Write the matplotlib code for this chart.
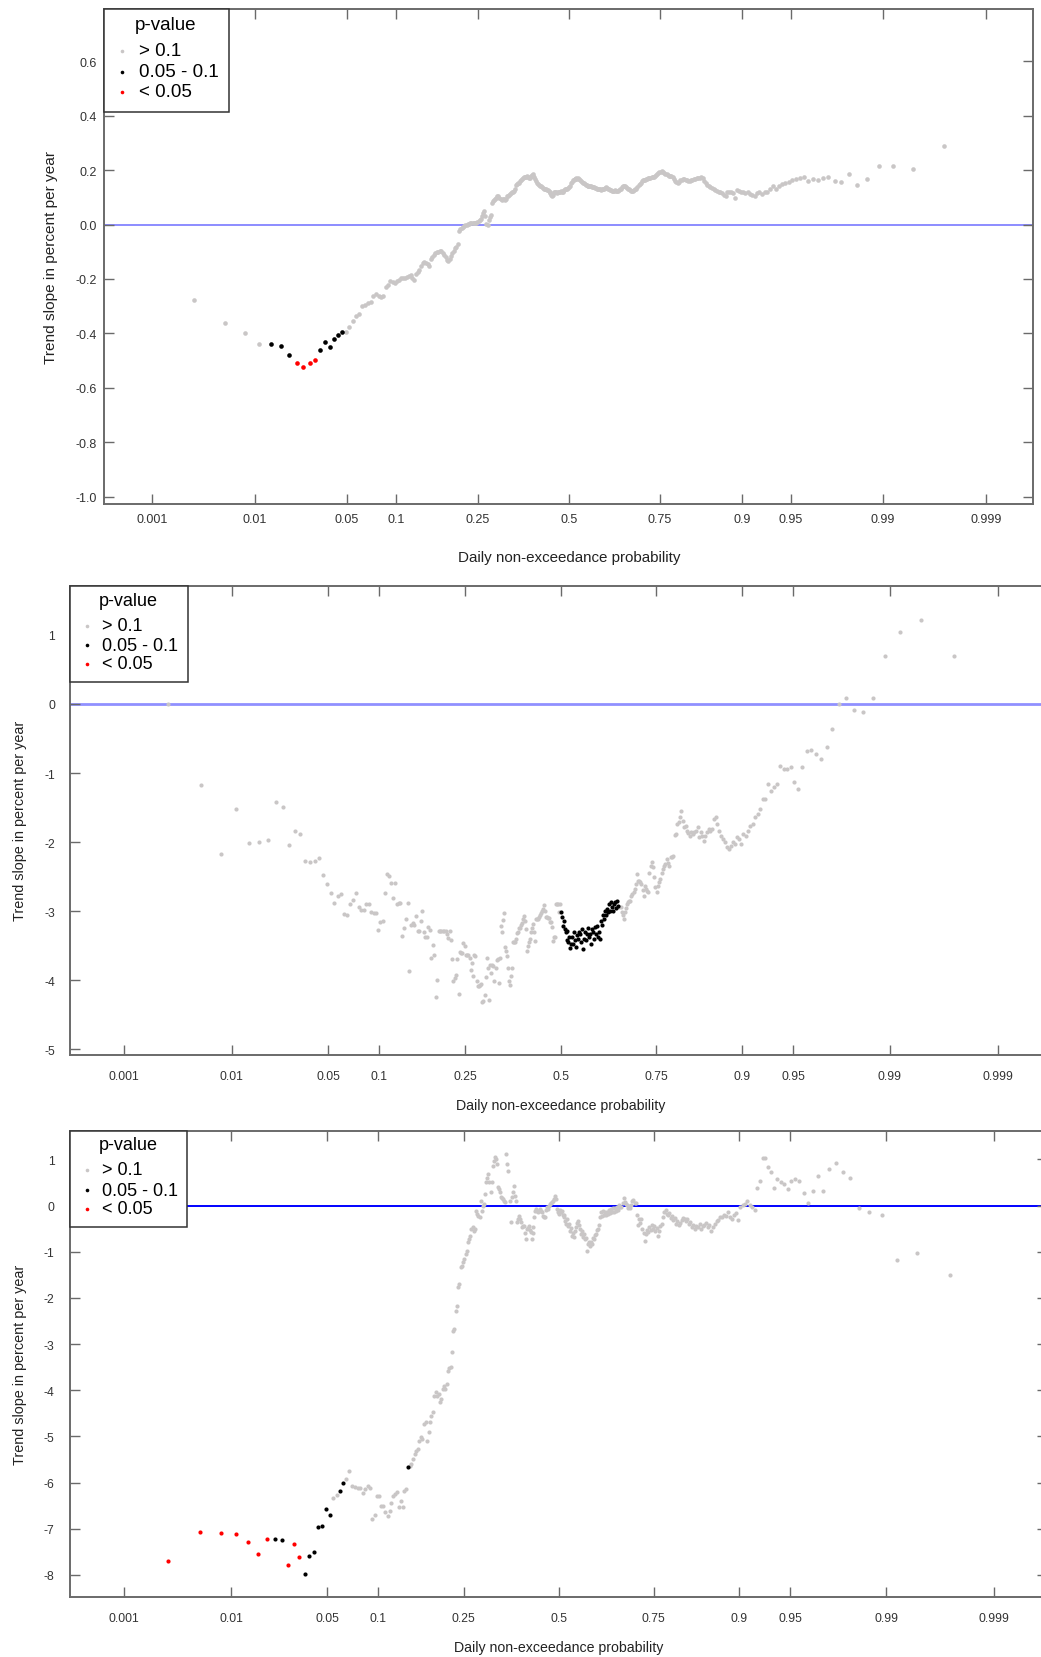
import numpy as np
import matplotlib
matplotlib.use("Agg")
import matplotlib.pyplot as plt
from matplotlib.lines import Line2D
from matplotlib.patches import Rectangle
from statistics import NormalDist

# ---------------- data ----------------
n_ranks = 365
tick_probs = [0.001, 0.01, 0.05, 0.1, 0.25, 0.5, 0.75, 0.9, 0.95, 0.99, 0.999]
tick_labels = ["0.001", "0.01", "0.05", "0.1", "0.25", "0.5", "0.75", "0.9", "0.95", "0.99", "0.999"]
legend_labels = ["> 0.1", "0.05 - 0.1", "< 0.05"]
x_label = "Daily non-exceedance probability"
y_label = "Trend slope in percent per year"

slope_1 = [
    -0.278, -0.361, -0.400, -0.439, -0.439, -0.445, -0.478, -0.510, -0.525, -0.510,
    -0.496, -0.461, -0.432, -0.449, -0.419, -0.407, -0.396, -0.394, -0.378, -0.354,
    -0.335, -0.329, -0.299, -0.296, -0.289, -0.284, -0.262, -0.256, -0.262, -0.268,
    -0.262, -0.231, -0.223, -0.207, -0.211, -0.213, -0.207, -0.203, -0.198, -0.195,
    -0.195, -0.191, -0.188, -0.186, -0.195, -0.203, -0.182, -0.176, -0.167, -0.152,
    -0.140, -0.137, -0.142, -0.146, -0.152, -0.127, -0.118, -0.113, -0.105, -0.100,
    -0.100, -0.097, -0.097, -0.103, -0.113, -0.121, -0.130, -0.133, -0.127, -0.115,
    -0.105, -0.097, -0.088, -0.081, -0.072, -0.023, -0.017, -0.012, -0.009, -0.005,
    -0.002, 0.000, 0.001, 0.002, 0.005, 0.004, 0.005, 0.007, 0.005, 0.007,
    0.010, 0.012, 0.015, 0.020, 0.032, 0.042, 0.049, 0.032, 0.001, -0.002,
    0.017, 0.026, 0.034, 0.078, 0.086, 0.091, 0.095, 0.099, 0.105, 0.103,
    0.099, 0.093, 0.091, 0.095, 0.093, 0.091, 0.095, 0.103, 0.105, 0.108,
    0.111, 0.114, 0.118, 0.120, 0.122, 0.132, 0.144, 0.149, 0.152, 0.154,
    0.159, 0.164, 0.166, 0.171, 0.173, 0.174, 0.176, 0.179, 0.174, 0.169,
    0.171, 0.179, 0.181, 0.184, 0.179, 0.174, 0.166, 0.160, 0.154, 0.149,
    0.144, 0.142, 0.140, 0.137, 0.135, 0.132, 0.132, 0.130, 0.127, 0.125,
    0.122, 0.120, 0.115, 0.108, 0.103, 0.110, 0.118, 0.120, 0.118, 0.115,
    0.118, 0.120, 0.120, 0.122, 0.118, 0.120, 0.124, 0.127, 0.130, 0.132,
    0.130, 0.135, 0.136, 0.142, 0.152, 0.157, 0.162, 0.164, 0.166, 0.168,
    0.169, 0.166, 0.169, 0.166, 0.164, 0.160, 0.157, 0.154, 0.152, 0.148,
    0.146, 0.144, 0.142, 0.142, 0.143, 0.141, 0.140, 0.137, 0.136, 0.137,
    0.135, 0.133, 0.132, 0.130, 0.129, 0.130, 0.127, 0.129, 0.131, 0.132,
    0.133, 0.135, 0.136, 0.135, 0.132, 0.130, 0.127, 0.125, 0.124, 0.122,
    0.124, 0.125, 0.124, 0.122, 0.124, 0.127, 0.130, 0.132, 0.136, 0.140,
    0.142, 0.140, 0.137, 0.135, 0.132, 0.130, 0.127, 0.124, 0.122, 0.124,
    0.127, 0.130, 0.132, 0.137, 0.144, 0.149, 0.154, 0.158, 0.162, 0.164,
    0.164, 0.166, 0.166, 0.169, 0.169, 0.171, 0.173, 0.175, 0.176, 0.179,
    0.181, 0.185, 0.188, 0.191, 0.193, 0.195, 0.192, 0.188, 0.186, 0.184,
    0.181, 0.179, 0.179, 0.177, 0.173, 0.166, 0.160, 0.157, 0.154, 0.157,
    0.162, 0.164, 0.166, 0.166, 0.164, 0.162, 0.160, 0.160, 0.162, 0.164,
    0.166, 0.166, 0.169, 0.170, 0.171, 0.174, 0.169, 0.159, 0.152, 0.144,
    0.142, 0.138, 0.135, 0.130, 0.127, 0.124, 0.120, 0.118, 0.114, 0.110,
    0.105, 0.118, 0.120, 0.118, 0.115, 0.098, 0.127, 0.124, 0.120, 0.118,
    0.115, 0.118, 0.111, 0.108, 0.105, 0.115, 0.118, 0.111, 0.118, 0.121,
    0.130, 0.140, 0.132, 0.142, 0.147, 0.151, 0.157, 0.164, 0.168, 0.172,
    0.175, 0.159, 0.168, 0.165, 0.172, 0.176, 0.159, 0.156, 0.185, 0.146,
    0.168, 0.215, 0.215, 0.203, 0.289,
]
black_ranks_1 = [5, 6, 7, 12, 13, 14, 15, 16, 17]
red_ranks_1 = [8, 9, 10, 11]

slope_2 = [
    0.000, -1.176, -2.174, -1.525, -2.019, -1.999, -1.974, -1.416, -1.490, -2.049,
    -1.834, -1.888, -2.274, -2.293, -2.269, -2.230, -2.481, -2.602, -2.742, -2.877,
    -2.785, -2.756, -3.041, -3.051, -2.901, -2.843, -2.742, -2.935, -2.983, -2.983,
    -2.901, -2.901, -3.007, -3.032, -3.020, -3.273, -3.152, -3.143, -2.742, -2.462,
    -2.491, -2.588, -2.810, -2.588, -2.896, -2.880, -2.877, -3.360, -3.250, -3.119,
    -2.887, -3.862, -3.200, -3.167, -3.201, -3.070, -3.287, -3.287, -3.150, -2.998,
    -3.300, -3.374, -3.374, -3.234, -3.278, -3.674, -3.495, -3.630, -4.248, -3.997,
    -3.283, -3.283, -3.283, -3.283, -3.283, -3.290, -3.330, -3.384, -3.283, -3.420,
    -3.688, -4.007, -3.963, -3.925, -3.700, -4.200, -3.592, -3.606, -3.606, -3.456,
    -3.500, -3.635, -3.640, -3.640, -3.674, -3.852, -3.756, -3.939, -3.635, -3.645,
    -4.007, -4.089, -4.089, -4.070, -4.050, -4.311, -4.300, -4.214, -3.950, -3.683,
    -3.828, -4.287, -3.785, -3.896, -3.775, -3.800, -4.012, -3.823, -3.712, -3.700,
    -4.041, -3.683, -3.210, -3.297, -3.128, -3.032, -3.524, -3.580, -3.645, -3.823,
    -4.007, -4.070, -3.934, -3.823, -3.442, -3.450, -3.452, -3.400, -3.321, -3.300,
    -3.244, -3.244, -3.200, -3.167, -3.120, -3.075, -3.150, -3.258, -3.577, -3.500,
    -3.450, -3.408, -3.300, -3.250, -3.181, -3.300, -3.427, -3.114, -3.114, -3.114,
    -3.080, -3.050, -3.032, -3.000, -2.964, -2.911, -3.000, -3.085, -3.085, -3.099,
    -3.099, -3.152, -3.152, -3.234, -3.427, -3.379, -3.379, -2.896, -2.896, -2.896,
    -3.017, -2.896, -3.017, -3.090, -3.210, -3.150, -3.259, -3.300, -3.283, -3.420,
    -3.452, -3.380, -3.540, -3.470, -3.380, -3.476, -3.300, -3.420, -3.520, -3.350,
    -3.403, -3.300, -3.331, -3.450, -3.260, -3.548, -3.403, -3.300, -3.420, -3.331,
    -3.250, -3.380, -3.331, -3.480, -3.259, -3.300, -3.400, -3.234, -3.330, -3.210,
    -3.380, -3.300, -3.403, -3.138, -3.200, -3.060, -3.114, -2.993, -3.050, -2.969,
    -3.017, -2.900, -2.993, -2.870, -2.945, -3.000, -2.896, -2.872, -2.960, -2.848,
    -2.921, -2.945, -2.945, -3.017, -3.060, -3.114, -3.017, -2.950, -2.896, -2.870,
    -2.860, -2.848, -2.780, -2.752, -2.720, -2.679, -2.600, -2.462, -2.559, -2.570,
    -2.583, -2.607, -2.700, -2.776, -2.631, -2.680, -2.703, -2.728, -2.450, -2.342,
    -2.293, -2.366, -2.500, -2.650, -2.728, -2.631, -2.580, -2.534, -2.450, -2.390,
    -2.340, -2.317, -2.245, -2.300, -2.342, -2.221, -2.210, -2.196, -1.900, -1.883,
    -1.738, -1.714, -1.641, -1.545, -1.700, -1.786, -1.762, -1.834, -1.870, -1.907,
    -1.859, -1.883, -1.850, -1.834, -1.786, -1.931, -1.859, -1.907, -1.979, -1.907,
    -1.859, -1.810, -1.834, -1.810, -1.665, -1.641, -1.738, -1.834, -1.907, -1.955,
    -2.003, -2.076, -2.100, -2.052, -2.003, -2.028, -1.931, -1.955, -2.028, -1.883,
    -1.907, -1.834, -1.762, -1.738, -1.641, -1.593, -1.521, -1.376, -1.376, -1.159,
    -1.255, -1.207, -1.159, -0.893, -0.941, -0.941, -0.917, -1.134, -1.231, -0.917,
    -0.676, -0.668, -0.718, -0.793, -0.618, -0.369, 0.006, 0.080, -0.094, -0.119,
    0.080, 0.694, 1.038, 1.212, 0.694,
]
black_ranks_2 = list(range(183, 242))
red_ranks_2 = []

slope_3 = [
    -7.70, -7.07, -7.10, -7.12, -7.28, -7.54, -7.23, -7.22, -7.25, -7.79,
    -7.34, -7.62, -7.98, -7.60, -7.51, -6.97, -6.94, -6.58, -6.71, -6.34,
    -6.27, -6.19, -6.01, -5.93, -5.75, -6.08, -6.10, -6.12, -6.12, -6.23,
    -6.15, -6.08, -6.12, -6.79, -6.70, -6.30, -6.285, -6.502, -6.502, -6.646,
    -6.718, -6.610, -6.450, -6.285, -6.249, -6.213, -6.538, -6.400, -6.538, -6.177,
    -6.141, -5.671, -5.650, -5.599, -5.491, -5.383, -5.310, -5.274, -5.100, -5.022,
    -5.058, -4.733, -4.697, -5.094, -4.913, -4.697, -4.552, -4.480, -4.119, -4.047,
    -4.119, -4.083, -4.264, -4.200, -3.975, -3.903, -3.975, -3.866, -3.578, -3.520,
    -3.505, -3.181, -2.711, -2.675, -2.278, -2.170, -1.773, -1.700, -1.339, -1.303,
    -1.231, -1.159, -1.051, -0.978, -0.798, -0.726, -0.653, -0.509, -0.473, -0.545,
    -0.509, -0.112, -0.184, -0.220, -0.256, 0.105, -0.112, -0.004, 0.032, 0.250,
    0.502, 0.600, 0.682, 0.502, 0.285, 0.502, 0.850, 0.971, 1.043, 1.000,
    0.899, 0.394, 0.350, 0.285, 0.177, 0.160, 0.141, 0.100, 0.069, 1.116,
    0.900, 0.755, 0.100, -0.365, 0.177, 0.300, 0.430, 0.200, 0.105, -0.365,
    -0.300, -0.220, -0.292, -0.350, -0.473, -0.450, -0.437, -0.600, -0.726, -0.509,
    -0.480, -0.437, -0.530, -0.581, -0.726, -0.600, -0.473, -0.250, -0.112, -0.076,
    -0.110, -0.148, -0.110, -0.076, -0.112, -0.150, -0.220, -0.240, -0.256, -0.100,
    -0.040, -0.076, -0.020, 0.032, 0.050, 0.069, 0.100, 0.141, 0.213, 0.150,
    -0.076, -0.150, -0.184, -0.096, -0.150, -0.120, -0.200, -0.256, -0.200, -0.330,
    -0.401, -0.300, -0.450, -0.400, -0.545, -0.480, -0.654, -0.600, -0.690, -0.560,
    -0.468, -0.380, -0.329, -0.420, -0.500, -0.617, -0.560, -0.680, -0.620, -0.728,
    -0.700, -0.988, -0.834, -0.780, -0.870, -0.800, -0.840, -0.700, -0.726, -0.640,
    -0.617, -0.540, -0.509, -0.420, -0.245, -0.150, -0.220, -0.120, -0.200, -0.150,
    -0.208, -0.130, -0.190, -0.100, -0.170, -0.080, -0.150, -0.060, -0.133, -0.050,
    -0.110, -0.030, -0.096, 0.010, -0.040, -0.022, 0.060, 0.164, 0.080, 0.030,
    0.015, -0.060, -0.020, -0.059, 0.020, 0.090, 0.127, 0.060, 0.052, -0.200,
    -0.431, -0.300, -0.380, -0.282, -0.500, -0.600, -0.765, -0.620, -0.520, -0.580,
    -0.468, -0.540, -0.420, -0.505, -0.450, -0.560, -0.480, -0.654, -0.560, -0.450,
    -0.394, -0.250, -0.150, -0.096, -0.180, -0.208, -0.160, -0.260, -0.220, -0.320,
    -0.280, -0.390, -0.340, -0.431, -0.370, -0.319, -0.260, -0.282, -0.330, -0.300,
    -0.394, -0.350, -0.468, -0.420, -0.505, -0.440, -0.468, -0.400, -0.505, -0.440,
    -0.431, -0.380, -0.468, -0.420, -0.542, -0.470, -0.394, -0.330, -0.319, -0.250,
    -0.245, -0.200, -0.220, -0.150, -0.250, -0.282, -0.200, -0.170, -0.319, -0.022,
    0.015, 0.030, 0.089, 0.015, -0.040, -0.096, 0.387, 0.536, 1.019, 1.019,
    0.833, 0.722, 0.387, 0.573, 0.499, 0.461, 0.350, 0.536, 0.573, 0.536,
    0.275, 0.052, 0.312, 0.647, 0.312, 0.796, 0.922, 0.722, 0.588, -0.059,
    -0.148, -0.208, -1.189, -1.026, -1.516,
]
black_ranks_3 = [8, 9, 13, 14, 15, 16, 17, 18, 19, 22, 23, 52]
red_ranks_3 = [1, 2, 3, 4, 5, 6, 7, 10, 11, 12]

y_ticks_1 = [-1.0, -0.8, -0.6, -0.4, -0.2, 0.0, 0.2, 0.4, 0.6]
y_ticks_2 = [-5, -4, -3, -2, -1, 0, 1]
y_ticks_3 = [-8, -7, -6, -5, -4, -3, -2, -1, 0, 1]

# ---------------- figure ----------------
W, H, DPI = 1041, 1658, 100
plt.rcParams["font.family"] = ["Liberation Sans", "DejaVu Sans"]
plt.rcParams["axes.unicode_minus"] = False

GRAY = "#c9c6c6"
SPINE = "#6a6a6a"
TXT = "#333333"

_nd = NormalDist()


def probit(p):
    p = np.clip(np.asarray(p, dtype=float), 1e-12, 1 - 1e-12)
    return np.vectorize(_nd.inv_cdf, otypes=[float])(p)


def inv_probit(z):
    return np.vectorize(_nd.cdf, otypes=[float])(np.asarray(z, dtype=float))


fig = plt.figure(figsize=(W / DPI, H / DPI), dpi=DPI)
fig.patch.set_facecolor("white")


def fx(x):
    return x / W


def fy(y):
    return 1 - y / H


def panel(slopes, black, red, box, zlim, ylim, yticks, yfmt, blue, blue_lw,
          tick_fs, ypad, xpad, s, ylab_xy, ylab_fs, xlab_xy, xlab_fs,
          leg_box, leg_title_xy, leg_mx, leg_tx, leg_rows, leg_fs):
    l, r, t, b = box
    ax = fig.add_axes([fx(l), fy(b), (r - l) / W, (b - t) / H])
    ax.set_xscale("function", functions=(probit, inv_probit))
    ranks = np.arange(1, n_ranks + 1)
    probs = ranks / (n_ranks + 1)
    vals = np.asarray(slopes, dtype=float)
    cls = np.zeros(n_ranks, dtype=int)
    cls[np.asarray(black, dtype=int) - 1] = 1
    if len(red):
        cls[np.asarray(red, dtype=int) - 1] = 2
    ax.axhline(0, color=blue, lw=blue_lw, zorder=1)
    for c, col in [(0, GRAY), (1, "black"), (2, "red")]:
        m = cls == c
        ax.scatter(probs[m], vals[m], s=s, c=col, linewidths=0, zorder=2 + c)
    ax.set_xlim(inv_probit(zlim[0]), inv_probit(zlim[1]))
    ax.set_ylim(*ylim)
    ax.set_xticks(tick_probs)
    ax.set_xticklabels(tick_labels)
    ax.xaxis.set_minor_locator(matplotlib.ticker.NullLocator())
    ax.set_yticks(yticks)
    ax.set_yticklabels([yfmt.format(v) for v in yticks])
    ax.tick_params(axis="both", which="both", direction="in", length=7.5, width=1.0,
                   color=SPINE, labelcolor=TXT, labelsize=tick_fs,
                   top=True, right=True, labeltop=False, labelright=False)
    ax.tick_params(axis="y", pad=ypad)
    ax.tick_params(axis="x", pad=xpad)
    for sp in ax.spines.values():
        sp.set_color(SPINE)
        sp.set_linewidth(1.4)
    # axis titles
    fig.text(fx(ylab_xy[0]), fy(ylab_xy[1]), y_label, rotation=90, ha="center",
             va="center", fontsize=ylab_fs, color="#222222")
    fig.text(fx(xlab_xy[0]), fy(xlab_xy[1]), x_label, ha="center", va="center",
             fontsize=xlab_fs, color="#222222")
    # legend box
    L, R, T, B = leg_box
    fig.add_artist(Rectangle((fx(L), fy(B)), (R - L) / W, (B - T) / H,
                             transform=fig.transFigure, facecolor="white",
                             edgecolor="#333333", lw=1.1, zorder=10))
    fig.text(fx(leg_title_xy[0]), fy(leg_title_xy[1]), "p-value", ha="center",
             va="center", fontsize=leg_fs, color="black", zorder=11)
    for lab, col, yy in zip(legend_labels, [GRAY, "black", "red"], leg_rows):
        fig.add_artist(Line2D([fx(leg_mx)], [fy(yy)], transform=fig.transFigure,
                              marker="o", ms=2.6, mew=0, color=col, ls="none", zorder=11))
        fig.text(fx(leg_tx), fy(yy), lab, ha="left", va="center",
                 fontsize=leg_fs, color="black", zorder=11)
    return ax


panel(slope_1, black_ranks_1, red_ranks_1,
      box=(104.3, 1033.3, 10.4, 504.6), zlim=(-3.442, 3.439), ylim=(-1.025, 0.790),
      yticks=y_ticks_1, yfmt="{:.1f}", blue="#6e6eff", blue_lw=1.1,
      tick_fs=9, ypad=5.5, xpad=7.0, s=11,
      ylab_xy=(50.8, 257.5), ylab_fs=11.1, xlab_xy=(568.8, 558), xlab_fs=10.9,
      leg_box=(104.3, 229, 10.4, 112.9), leg_title_xy=(165.7, 25.7), leg_mx=122,
      leg_tx=139, leg_rows=(51.8, 72.5, 92.9), leg_fs=13.5)

panel(slope_2, black_ranks_2, red_ranks_2,
      box=(70.3, 1051.1, 586.5, 1055.9), zlim=(-3.468, 3.468), ylim=(-5.082, 1.716),
      yticks=y_ticks_2, yfmt="{:d}", blue="#9090ff", blue_lw=2.0,
      tick_fs=8.7, ypad=11.0, xpad=10.6, s=9,
      ylab_xy=(20, 821), ylab_fs=10.4, xlab_xy=(560.7, 1106), xlab_fs=10.2,
      leg_box=(70.3, 187.7, 586.5, 683.3), leg_title_xy=(128.3, 601.3), leg_mx=87.3,
      leg_tx=102.3, leg_rows=(626.5, 646.1, 664.7), leg_fs=13)

panel(slope_3, black_ranks_3, red_ranks_3,
      box=(70.0, 1047.4, 1132, 1598), zlim=(-3.471, 3.471), ylim=(-8.48, 1.614),
      yticks=y_ticks_3, yfmt="{:d}", blue="#0000ff", blue_lw=1.4,
      tick_fs=8.7, ypad=11.0, xpad=10.8, s=9,
      ylab_xy=(20, 1365), ylab_fs=10.4, xlab_xy=(558.5, 1648.5), xlab_fs=10.2,
      leg_box=(70.0, 187.0, 1132, 1228), leg_title_xy=(128.3, 1145.7), leg_mx=87,
      leg_tx=102, leg_rows=(1170.8, 1191.0, 1209.9), leg_fs=13)

fig.savefig("out.png", dpi=DPI, facecolor="white")
